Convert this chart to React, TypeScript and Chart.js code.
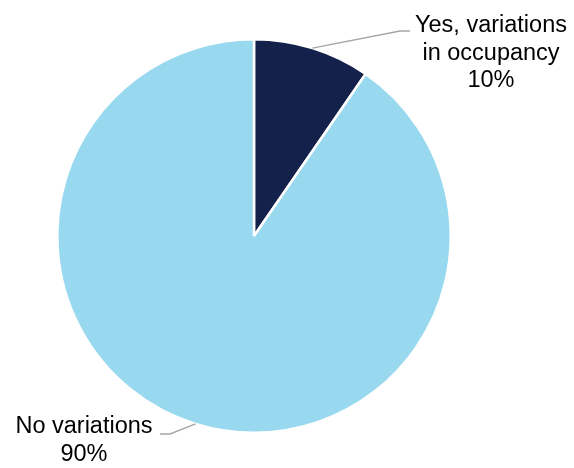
import React, { useEffect, useRef } from "react";
import { Chart, registerables } from "chart.js";

Chart.register(...registerables);

const categories = ["Yes, variations in occupancy", "No variations"];
const values = [9.6, 90.4];
const labelLines = [["Yes, variations", "in occupancy", "10%"], ["No variations", "90%"]];
const colors = ["#13214b", "#99d9f0"];

const labelPlugin = {
  id: "leaderLabels",
  afterDatasetsDraw(chart: any) {
    const ctx = chart.ctx;
    const meta = chart.getDatasetMeta(0);
    const cfg = [
      { elbow: [400, 31], end: [410, 31], tx: 491, ty: 32, align: "center" },
      { elbow: [170, 434], end: [160, 434], tx: 84, ty: 433, align: "center" },
    ];
    meta.data.forEach((arc: any, i: number) => {
      const p = arc.getProps(["x", "y", "startAngle", "endAngle", "outerRadius"], true);
      const mid = (p.startAngle + p.endAngle) / 2;
      const sx = p.x + Math.cos(mid) * p.outerRadius;
      const sy = p.y + Math.sin(mid) * p.outerRadius;
      const c = cfg[i];
      ctx.save();
      ctx.strokeStyle = "#a6a6a6";
      ctx.lineWidth = 1.5;
      ctx.beginPath();
      ctx.moveTo(sx, sy);
      ctx.lineTo(c.elbow[0], c.elbow[1]);
      ctx.lineTo(c.end[0], c.end[1]);
      ctx.stroke();
      ctx.fillStyle = "#000000";
      ctx.font = "23.5px 'Liberation Sans', Arial, sans-serif";
      ctx.textAlign = c.align;
      ctx.textBaseline = "alphabetic";
      labelLines[i].forEach((t, j) => {
        ctx.fillText(t, c.tx, c.ty + j * 27.5);
      });
      ctx.restore();
    });
  },
};

export default function App() {
  const ref = useRef<HTMLCanvasElement>(null);
  useEffect(() => {
    const chart = new Chart(ref.current!, {
      type: "pie",
      data: {
        labels: categories,
        datasets: [
          {
            data: values,
            backgroundColor: colors,
            borderColor: "#ffffff",
            borderWidth: 2.5,
          },
        ],
      },
      options: {
        animation: false,
        responsive: false,
        layout: { padding: { left: 56, right: 122, top: 38, bottom: 34 } },
        plugins: { legend: { display: false }, tooltip: { enabled: false } },
      },
      plugins: [labelPlugin],
    });
    return () => chart.destroy();
  }, []);
  return (
    <div style={{ position: "fixed", left: 0, top: 0, width: 574, height: 468, background: "#fff" }}>
      <canvas ref={ref} width={574} height={468} />
    </div>
  );
}
